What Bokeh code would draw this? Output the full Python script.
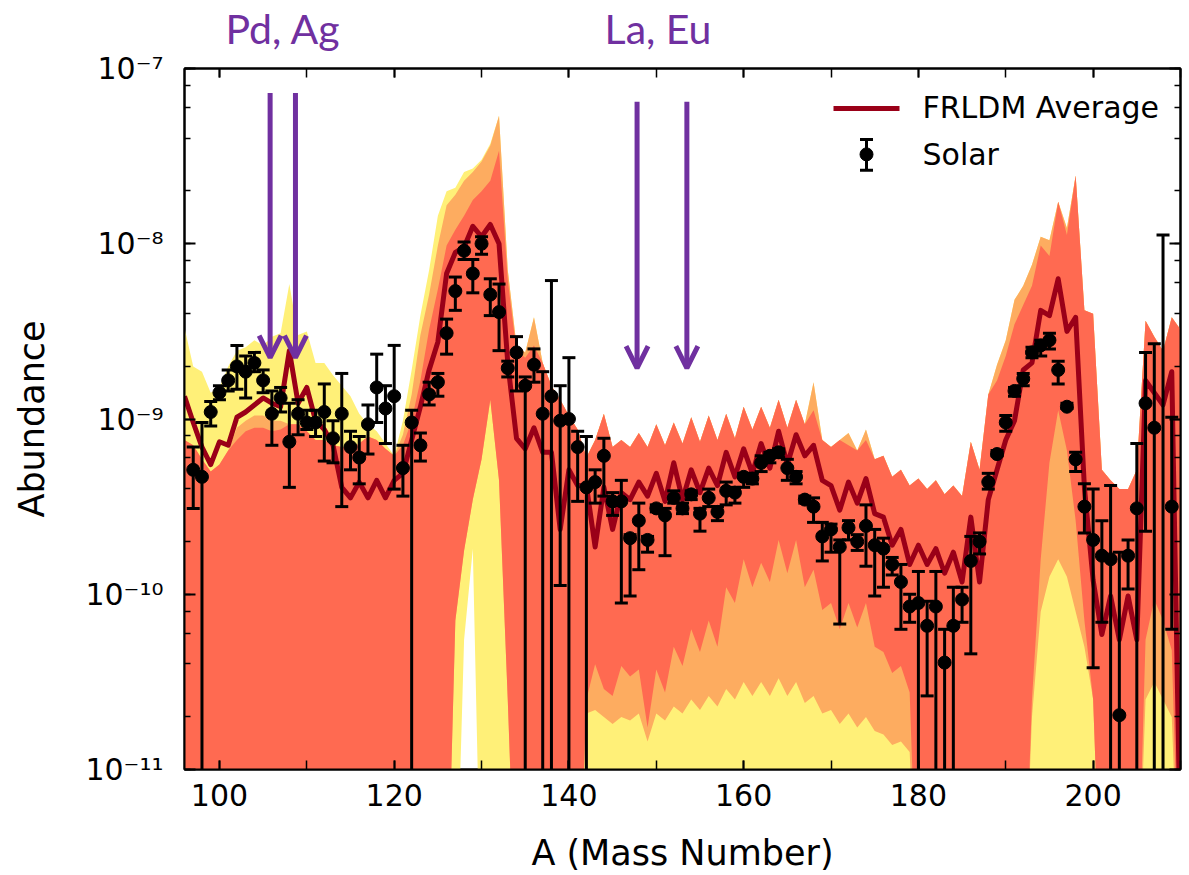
import numpy as np
from bokeh.plotting import figure
from bokeh.models import (Range1d, LinearAxis, LogAxis, LogTicker, SingleIntervalTicker,
                          FixedTicker, CustomJSTickFormatter, Arrow, OpenHead)
from bokeh.embed import file_html
from bokeh.resources import INLINE

# ---------------------------------------------------------------------------
# Data (log10 of abundance)
# ---------------------------------------------------------------------------
mass_number = list(range(96, 211))

# FRLDM average abundance pattern
avg_log10 = [
    -8.87, -9.02, -9.16, -9.26, -9.13, -9.15, -8.99, -8.96, -8.92, -8.88,
    -8.91, -8.93, -8.61, -8.91, -8.82, -9.01, -9.06, -9.15, -9.39, -9.45,
    -9.36, -9.45, -9.35, -9.45, -9.35, -9.31, -9.12, -8.93, -8.72, -8.56,
    -8.17, -8.05, -8.02, -7.90, -7.96, -7.89, -8.00, -8.68, -9.11, -9.17,
    -9.05, -9.19, -9.19, -9.63, -9.29, -9.38, -9.38, -9.73, -9.39, -9.63,
    -9.42, -9.46, -9.36, -9.44, -9.31, -9.47, -9.25, -9.46, -9.29, -9.42,
    -9.28, -9.38, -9.19, -9.33, -9.17, -9.31, -9.14, -9.28, -9.07, -9.26,
    -9.09, -9.21, -9.15, -9.35, -9.38, -9.52, -9.36, -9.48, -9.34, -9.54,
    -9.56, -9.72, -9.63, -9.83, -9.72, -9.83, -9.74, -9.88, -9.76, -9.93,
    -9.56, -9.93, -9.46, -9.29, -9.12, -9.01, -8.72, -8.68, -8.38, -8.41,
    -8.20, -8.50, -8.42, -9.39, -9.92, -10.23, -10.01, -10.26, -10.01, -10.26,
    -8.78, -8.85, -8.92, -8.73, -11.5,
]

# Ensemble of mass-model runs: outer envelope of all runs (light runs)
ens_top_log10 = [
    -8.48, -8.70, -8.73, -8.85, -8.82, -8.70, -8.61, -8.59, -8.55, -8.58,
    -8.53, -8.51, -8.23, -8.52, -8.50, -8.68, -8.68, -8.75, -8.81, -8.87,
    -8.97, -9.03, -9.07, -9.14, -9.21, -9.01, -8.72, -8.41, -8.15, -7.84,
    -7.70, -7.68, -7.59, -7.57, -7.52, -7.43, -7.27, -8.15, -8.58, -8.62,
    -8.42, -8.68, -8.81, -8.89, -8.98, -9.06, -9.22, -9.12, -8.97, -9.16,
    -9.12, -9.16, -9.08, -9.16, -9.03, -9.15, -9.02, -9.14, -8.99, -9.13,
    -8.98, -9.12, -8.97, -9.11, -8.93, -9.06, -8.93, -9.05, -8.89, -9.05,
    -8.89, -9.03, -8.79, -9.12, -9.16, -9.12, -9.08, -9.18, -9.06, -9.23,
    -9.21, -9.33, -9.29, -9.38, -9.34, -9.40, -9.35, -9.43, -9.38, -9.44,
    -9.13, -9.29, -8.86, -8.69, -8.55, -8.32, -8.24, -8.12, -7.96, -7.98,
    -7.76, -7.91, -7.61, -8.38, -8.40, -9.29, -9.35, -9.40, -9.40, -9.29,
    -8.44, -8.53, -8.61, -8.42, -8.49,
]
ens_low_log10 = [-12.0] * 32 + [-10.26, -9.74] + [-12.0] * 81

# intermediate runs (orange)
mid_top_log10 = [
    -9.12, -9.15, -9.23, -9.30, -9.26, -9.18, -9.05, -9.01, -8.98, -8.98,
    -9.01, -9.01, -9.03, -9.03, -9.07, -9.12, -9.12, -9.15, -9.16, -9.17,
    -9.14, -9.10, -9.12, -9.17, -9.21, -9.09, -8.86, -8.52, -8.29, -8.01,
    -7.78, -7.72, -7.64, -7.59, -7.53, -7.44, -7.27, -8.15, -8.58, -8.62,
    -8.42, -8.68, -8.81, -8.89, -8.98, -9.06, -9.22, -9.12, -8.97, -9.16,
    -9.12, -9.16, -9.08, -9.16, -9.03, -9.15, -9.02, -9.14, -8.99, -9.13,
    -8.98, -9.12, -8.97, -9.11, -8.93, -9.06, -8.93, -9.05, -8.89, -9.05,
    -8.89, -9.03, -8.79, -9.12, -9.16, -9.12, -9.08, -9.18, -9.06, -9.23,
    -9.21, -9.33, -9.29, -9.38, -9.34, -9.40, -9.35, -9.43, -9.38, -9.44,
    -9.13, -9.29, -8.86, -8.69, -8.55, -8.32, -8.24, -8.12, -7.96, -7.98,
    -7.76, -7.91, -7.61, -8.38, -8.40, -9.29, -9.35, -9.40, -9.40, -9.29,
    -8.44, -8.53, -8.61, -8.42, -8.49,
]
mid_low_log10 = (
    [-12.0] * 31
    + [-10.15, -9.75, -9.46, -9.23, -8.89, -9.35, -10.60]
    + [-12.0] * 8
    + [-10.68, -10.66, -10.70, -10.74, -10.70, -10.72, -10.68, -10.84, -10.68, -10.72,
       -10.64, -10.68, -10.60, -10.66, -10.58, -10.64, -10.54, -10.60, -10.50, -10.58,
       -10.50, -10.58, -10.48, -10.58, -10.50, -10.62, -10.58, -10.68, -10.66, -10.74,
       -10.68, -10.76, -10.70, -10.78, -10.80, -10.86, -10.84, -10.90]
    + [-12.0] * 13
    + [-10.70, -10.10, -9.90, -9.80, -9.90, -10.10, -10.30, -10.60]
    + [-12.0] * 5
    + [-10.60, -10.50, -10.60, -10.70]
    + [-12.0]
)

# bulk of the runs (red)
core_top_log10 = [
    -9.12, -9.15, -9.23, -9.30, -9.26, -9.18, -9.12, -9.07, -9.05, -9.05,
    -9.07, -9.06, -9.03, -9.03, -9.07, -9.12, -9.12, -9.15, -9.16, -9.17,
    -9.14, -9.10, -9.12, -9.17, -9.21, -9.15, -9.01, -8.78, -8.49, -8.26,
    -8.01, -7.92, -7.84, -7.75, -7.70, -7.64, -7.47, -8.21, -8.61, -8.65,
    -8.58, -8.68, -8.81, -8.89, -8.98, -9.06, -9.22, -9.12, -8.97, -9.16,
    -9.12, -9.16, -9.08, -9.16, -9.03, -9.15, -9.02, -9.14, -8.99, -9.13,
    -8.98, -9.12, -8.97, -9.11, -8.93, -9.06, -8.93, -9.05, -8.89, -9.05,
    -8.89, -9.03, -8.95, -9.12, -9.16, -9.12, -9.15, -9.18, -9.12, -9.23,
    -9.21, -9.33, -9.29, -9.38, -9.34, -9.40, -9.35, -9.43, -9.38, -9.44,
    -9.13, -9.29, -8.86, -8.78, -8.64, -8.46, -8.35, -8.24, -8.01, -8.07,
    -7.76, -7.95, -7.61, -8.38, -8.40, -9.29, -9.35, -9.40, -9.40, -9.29,
    -8.44, -8.53, -8.61, -8.42, -8.49,
]
core_low_log10 = (
    [-12.0] * 31
    + [-10.15, -9.75, -9.46, -9.23, -8.89, -9.35, -10.60]
    + [-12.0] * 8
    + [-10.60, -10.40, -10.54, -10.58, -10.41, -10.47, -10.43, -10.76, -10.43, -10.56,
       -10.30, -10.41, -10.20, -10.33, -10.15, -10.30, -9.96, -10.05, -9.80, -9.96,
       -9.82, -9.93, -9.69, -9.88, -9.69, -9.96, -9.86, -10.09, -10.05, -10.20,
       -10.05, -10.19, -10.05, -10.30, -10.33, -10.45, -10.41, -10.56]
    + [-12.0] * 13
    + [-10.60, -9.80, -9.25, -8.95, -9.18, -9.58, -10.15, -10.60]
    + [-12.0] * 5
    + [-10.26, -10.03, -10.15, -10.32]
    + [-12.0]
)

# Solar r-process abundances with upper / lower bounds (None: below the axis)
solar_A = list(range(97, 210))
solar_log10 = [
    -9.29, -9.33, -8.96, -8.85, -8.78, -8.70, -8.73, -8.68, -8.78, -8.97,
    -8.88, -9.13, -8.97, -9.02, -9.02, -8.96, -9.11, -8.97, -9.16, -9.22,
    -9.03, -8.82, -8.94, -8.87, -9.28, -9.02, -9.15, -8.86, -8.79, -8.51,
    -8.27, -8.04, -8.17, -8.00, -8.29, -8.39, -8.71, -8.62, -8.81, -8.69,
    -8.97, -8.87, -9.01, -9.00, -9.16, -9.39, -9.36, -9.21, -9.47, -9.47,
    -9.68, -9.58, -9.69, -9.51, -9.55, -9.45, -9.51, -9.43, -9.54, -9.45,
    -9.53, -9.41, -9.42, -9.33, -9.34, -9.25, -9.21, -9.19, -9.28, -9.33,
    -9.46, -9.50, -9.67, -9.63, -9.73, -9.62, -9.70, -9.61, -9.72, -9.74,
    -9.83, -9.93, -10.07, -10.05, -10.18, -10.07, -10.39, -10.18, -10.03, -9.81,
    -9.70, -9.36, -9.20, -9.02, -8.84, -8.77, -8.62, -8.58, -8.55, -8.72,
    -8.93, -9.23, -9.50, -9.69, -9.78, -9.80, -10.69, -9.78, -9.51, -8.91,
    -9.05, None, -9.50,
]
solar_hi_log10 = [
    -9.16, -9.02, -8.90, -8.81, -8.72, -8.58, -8.64, -8.62, -8.72, -8.84,
    -8.82, -8.91, -8.89, -8.95, -8.95, -8.80, -9.01, -8.74, -9.07, -9.10,
    -8.92, -8.63, -8.81, -8.58, -9.15, -8.95, -9.08, -8.79, -8.74, -8.43,
    -8.19, -7.99, -8.09, -7.96, -8.20, -8.23, -8.67, -8.53, -8.76, -8.60,
    -8.73, -8.21, -8.81, -8.65, -9.07, -9.10, -9.29, -9.11, -9.42, -9.35,
    -9.66, -9.48, -9.67, -9.49, -9.51, -9.41, -9.48, -9.41, -9.51, -9.40,
    -9.50, -9.36, -9.39, -9.31, -9.31, -9.21, -9.19, -9.17, -9.23, -9.30,
    -9.44, -9.45, -9.59, -9.60, -9.69, -9.58, -9.66, -9.49, -9.63, -9.68,
    -9.79, -9.83, -10.00, -9.87, -10.04, -9.87, -10.20, -9.96, -9.96, -9.67,
    -9.65, -9.31, -9.18, -8.98, -8.82, -8.74, -8.59, -8.55, -8.51, -8.67,
    -8.91, -9.19, -9.37, -9.40, -9.58, -9.38, -9.76, -9.69, -9.14, -8.62,
    -8.57, -7.95, -8.99,
]
solar_lo_log10 = [
    -9.51, None, -9.04, -8.89, -8.84, -8.83, -8.88, -8.73, -8.85, -9.15,
    -8.96, -9.39, -9.09, -9.06, -9.10, -9.24, -9.25, -9.50, -9.29, -9.37,
    -9.20, -9.02, -9.14, -9.40, -9.44, None, -9.24, -8.92, -8.87, -8.63,
    -8.38, -8.09, -8.28, -8.06, -8.41, -8.61, -8.76, -8.84, None, -8.79,
    None, None, -9.95, None, -9.47, None, -9.48, -9.44, -9.55, -10.05,
    -10.01, -9.86, -9.76, -9.53, -9.78, -9.48, -9.54, -9.46, -9.64, -9.50,
    -9.58, -9.49, -9.48, -9.39, -9.37, -9.30, -9.25, -9.22, -9.35, -9.37,
    -9.48, -9.59, -9.81, -9.76, -10.17, -9.69, -9.75, -9.84, -10.01, -9.96,
    -9.89, -10.20, -10.16, None, -10.58, None, None, None, -10.16, -10.34,
    -9.77, -9.40, -9.21, -9.07, -8.87, -8.81, -8.65, -8.64, -8.60, -8.80,
    -8.94, -9.30, -9.65, -10.42, -10.16, None, None, -9.97, None, -9.64,
    None, None, -10.20,
]

# Isotope markers: label position (mass number), arrows and their tail / tip (log10)
marker_labels = ["Pd, Ag", "La, Eu"]
marker_label_A = [107.3, 150.2]
marker_arrow_A = [[105.8, 108.7], [147.8, 153.5]]
marker_arrow_top_log10 = [-7.14, -7.19]
marker_arrow_tip_log10 = [-8.65, -8.71]

# ---------------------------------------------------------------------------
# Styling
# ---------------------------------------------------------------------------
X_LO, X_HI = 96, 210
LOG_LO, LOG_HI = -11, -7
FRAME_L, FRAME_R, FRAME_T, FRAME_B = 184, 1180, 68, 770
W, H = 1189, 875

YELLOW = "#fff078"
ORANGE = "#fdac60"
RED = "#ff6a51"
DARK_RED = "#9a0018"
PURPLE = "#7030a0"
FONT = "DejaVu Sans"
BAR_FLOOR = 1e-13


def dex(values):
    return [np.nan if v is None else 10.0 ** v for v in values]


def at_px(px, py):
    """Canvas pixel -> data coordinates (used for the legend keys)."""
    a = X_LO + (px - FRAME_L) * (X_HI - X_LO) / (FRAME_R - FRAME_L)
    ly = LOG_HI - (py - FRAME_T) * (LOG_HI - LOG_LO) / (FRAME_B - FRAME_T)
    return a, 10.0 ** ly


p = figure(width=W, height=H, x_range=Range1d(X_LO, X_HI),
           y_range=Range1d(10.0 ** LOG_LO, 10.0 ** LOG_HI), y_axis_type="log",
           output_backend="svg", toolbar_location=None,
           min_border_left=FRAME_L, min_border_right=W - FRAME_R,
           min_border_top=FRAME_T, min_border_bottom=H - FRAME_B)
p.grid.visible = False
p.outline_line_color = "black"
p.outline_line_width = 2
p.background_fill_color = "white"
p.border_fill_color = "white"

# ensemble bands
p.varea(x=mass_number, y1=dex(ens_low_log10), y2=dex(ens_top_log10), fill_color=YELLOW)
p.varea(x=mass_number, y1=dex(mid_low_log10), y2=dex(mid_top_log10), fill_color=ORANGE)
p.varea(x=mass_number, y1=dex(core_low_log10), y2=dex(core_top_log10), fill_color=RED)

# average
p.line(mass_number, dex(avg_log10), line_color=DARK_RED, line_width=5, line_join="round")

# solar points with error bars
solar_vals = dex(solar_log10)
solar_hi = dex(solar_hi_log10)
solar_lo = [BAR_FLOOR if v is None else 10.0 ** v for v in solar_lo_log10]
lo_cap_A = [a for a, v in zip(solar_A, solar_lo_log10) if v is not None]
lo_cap_y = [10.0 ** v for v in solar_lo_log10 if v is not None]
p.segment(x0=solar_A, y0=solar_lo, x1=solar_A, y1=solar_hi, line_color="black", line_width=3)
p.scatter(solar_A, solar_hi, marker="dash", size=13, line_color="black", line_width=3)
p.scatter(lo_cap_A, lo_cap_y, marker="dash", size=13, line_color="black", line_width=3)
p.scatter(solar_A, solar_vals, marker="circle", size=13, fill_color="black", line_color="black")

# isotope arrows
for xs, top, tip in zip(marker_arrow_A, marker_arrow_top_log10, marker_arrow_tip_log10):
    for xa in xs:
        p.add_layout(Arrow(end=OpenHead(size=22, line_color=PURPLE, line_width=5),
                           x_start=xa, y_start=10.0 ** top, x_end=xa, y_end=10.0 ** tip,
                           line_color=PURPLE, line_width=5))

# legend
lx0, ly_line = at_px(833, 108)
lx1, _ = at_px(899, 108)
p.line([lx0, lx1], [ly_line, ly_line], line_color=DARK_RED, line_width=5)
mx, my = at_px(866, 154)
_, my_top = at_px(866, 139)
_, my_bot = at_px(866, 170)
p.segment(x0=[mx], y0=[my_bot], x1=[mx], y1=[my_top], line_color="black", line_width=3)
p.scatter([mx, mx], [my_top, my_bot], marker="dash", size=13, line_color="black", line_width=3)
p.scatter([mx], [my], marker="circle", size=13, fill_color="black", line_color="black")
tx1, ty1 = at_px(922, 107.5)
tx2, ty2 = at_px(922, 154)
p.text(x=[tx1, tx2], y=[ty1, ty2], text=["FRLDM Average", "Solar"],
       text_font={"value": FONT}, text_font_size={"value": "30px"}, text_color="black",
       text_align="left", text_baseline="middle")

# axes
sup_fmt = CustomJSTickFormatter(code="""
    const e = Math.round(Math.log10(tick));
    const sup = {"-": "\u207b", "0": "\u2070", "1": "\u00b9", "2": "\u00b2", "3": "\u00b3",
                 "4": "\u2074", "5": "\u2075", "6": "\u2076", "7": "\u2077", "8": "\u2078",
                 "9": "\u2079"};
    return "10" + String(e).split("").map(c => sup[c]).join("");
""")
blank_fmt = CustomJSTickFormatter(code="return '';")


def style(ax, major_len, minor_len):
    ax.axis_line_width = 2
    ax.axis_line_color = "black"
    ax.major_tick_line_width = 2
    ax.minor_tick_line_width = 1.5
    ax.major_tick_in = major_len
    ax.major_tick_out = 0
    ax.minor_tick_in = minor_len
    ax.minor_tick_out = 0
    ax.major_label_text_font = FONT
    ax.major_label_text_font_size = "30px"
    ax.major_label_text_color = "black"
    ax.axis_label_text_font = FONT
    ax.axis_label_text_font_size = "35px"
    ax.axis_label_text_font_style = "normal"
    ax.axis_label_text_color = "black"


p.xaxis.ticker = SingleIntervalTicker(interval=20, num_minor_ticks=2)
style(p.xaxis[0], 9, 9)
p.xaxis.major_label_standoff = 14
p.xaxis.axis_label = "A (Mass Number)"
p.xaxis.axis_label_standoff = 24

p.yaxis.ticker = LogTicker()
p.yaxis.formatter = sup_fmt
style(p.yaxis[0], 11, 6)
p.yaxis.major_label_standoff = 21
p.yaxis.axis_label = "Abundance"
p.yaxis.axis_label_standoff = 30

top_ax = LinearAxis(ticker=SingleIntervalTicker(interval=20, num_minor_ticks=2),
                    formatter=blank_fmt)
style(top_ax, 9, 9)
top_ax.major_label_text_font_size = "2px"
top_ax.major_label_standoff = 0
p.add_layout(top_ax, "above")

# element names written above the frame, over their arrows
name_ax = LinearAxis(ticker=FixedTicker(ticks=marker_label_A),
                     formatter=CustomJSTickFormatter(args={"names": marker_labels},
                                                     code="return names[index];"))
name_ax.axis_line_color = None
name_ax.major_tick_line_color = None
name_ax.minor_tick_line_color = None
name_ax.major_tick_in = 0
name_ax.major_tick_out = 0
name_ax.major_label_text_font = "Lato"
name_ax.major_label_text_font_size = "41px"
name_ax.major_label_text_color = PURPLE
name_ax.major_label_standoff = 16
p.add_layout(name_ax, "above")

right_ax = LogAxis(ticker=LogTicker(), formatter=blank_fmt)
style(right_ax, 11, 6)
right_ax.major_label_text_font_size = "2px"
right_ax.major_label_standoff = 0
p.add_layout(right_ax, "right")

open("out.html", "w").write(file_html(p, INLINE))
